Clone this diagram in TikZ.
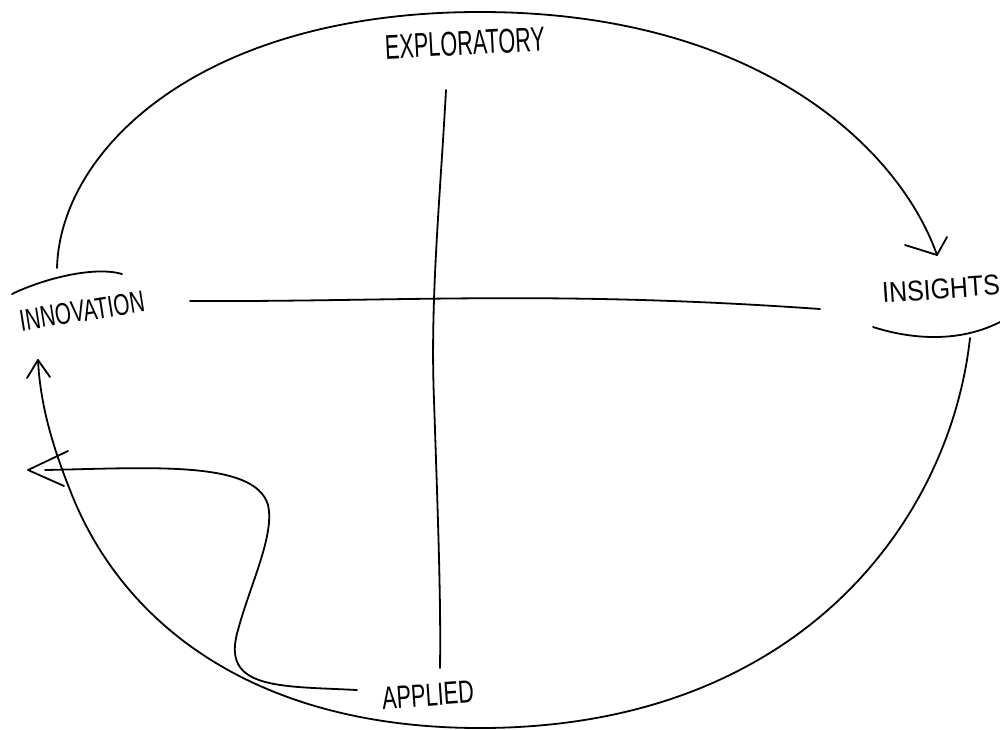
\documentclass[tikz,border=0pt]{standalone}
\usepackage{fontspec}
\setmainfont{Liberation Sans}
\newcommand{\hwtext}[3]{\resizebox{#1pt}{#2pt}{#3}}
\begin{document}
\begin{tikzpicture}[x=1pt,y=-1pt,
  ink/.style={line width=1.8pt,line cap=round,line join=round,black},
  label/.style={inner sep=0pt,font=\fontsize{20}{20}\selectfont}]
\useasboundingbox (0,0) rectangle (1000,729);
% labels
\node[label,rotate=3] (expl) at (465,43) {\hwtext{160}{24}{EXPLORATORY}};
\node[label,rotate=9] (innov) at (82,311) {\hwtext{126}{21}{INNOVATION}};
\node[label,rotate=4] (ins) at (941,289) {\hwtext{118}{20}{INSIGHTS}};
\node[label,rotate=4] (appl) at (428,695) {\hwtext{92}{22}{APPLIED}};
% coordinates
\coordinate (topstart) at (57,268);
\coordinate (toptip) at (937,255);
\coordinate (ta1) at (905,245);
\coordinate (ta2) at (947,237);
\coordinate (rstart) at (970,338);
\coordinate (ltip) at (38,360);
\coordinate (la1) at (27,378);
\coordinate (la2) at (50,377);
\coordinate (sstart) at (357,690);
\coordinate (stip) at (28,470);
\coordinate (sa1) at (68,451);
\coordinate (sa2) at (64,486);
% axes
\draw[ink] (190,301) .. controls (400,302) and (550,290) .. (820,309);
\draw[ink] (446,90) .. controls (440,200) and (430,300) .. (434,400)
  .. controls (438,520) and (441,600) .. (440,668);
% arcs near labels
\draw[ink] (12,294) .. controls (45,278) and (95,266) .. (122,274);
\draw[ink] (873,327) .. controls (920,342) and (965,340) .. (1000,322);
% top loop
\draw[ink] (topstart) .. controls (60,150) and (200,12) .. (480,12)
  .. controls (760,12) and (900,150) .. (toptip);
\draw[ink] (ta1) -- (toptip) -- (ta2);
% bottom loop
\draw[ink] (rstart) .. controls (950,520) and (800,728) .. (480,728)
  .. controls (250,728) and (120,620) .. (70,490)
  .. controls (50,440) and (40,400) .. (ltip);
\draw[ink] (la1) -- (ltip) -- (la2);
% S-curve from applied
\draw[ink] (sstart) .. controls (280,686) and (220,690) .. (238,630)
  .. controls (250,585) and (275,535) .. (268,505)
  .. controls (255,460) and (150,468) .. (45,470);
\draw[ink] (sa1) -- (stip) -- (sa2);
\end{tikzpicture}
\end{document}
